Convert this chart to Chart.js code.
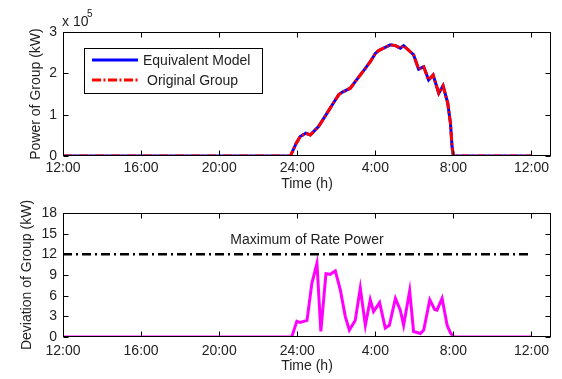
<!DOCTYPE html>
<html><head><meta charset="utf-8">
<script src="https://cdn.jsdelivr.net/npm/chart.js@4"></script>
<style>
html,body{margin:0;padding:0;background:#fff}
#wrap{position:relative;width:562px;height:379px;background:#fff}
canvas{position:absolute;left:0;top:0}
</style>
</head><body>
<div id="wrap"><canvas id="c1" width="562" height="379"></canvas><canvas id="c2" width="562" height="379"></canvas></div>
<script>
// ---- data ----
const xTickHours = [12, 16, 20, 24, 28, 32, 36];
const xTickLabels = ['12:00', '16:00', '20:00', '24:00', '4:00', '8:00', '12:00'];

const powerHours = [12, 23.65, 23.95, 24.15, 24.44, 24.67, 25.09, 25.52, 25.78, 26.12, 26.29, 26.72, 26.97, 27.49, 27.74, 28.0, 28.17, 28.43, 28.77, 29.03, 29.28, 29.45, 29.96, 30.22, 30.48, 30.73, 30.96, 31.25, 31.47, 31.71, 31.85, 31.93, 32.0, 36];
const equivalentModel = [0, 0, 31000, 47000, 55000, 51000, 71000, 103000, 123000, 148000, 154000, 164000, 180000, 212000, 228000, 248000, 255000, 261000, 269000, 267000, 261000, 267000, 245000, 210000, 216000, 184000, 196000, 152000, 170000, 128000, 79000, 23000, 0, 0];
const originalGroup = [0, 0, 31000, 47000, 55000, 51000, 71000, 103000, 123000, 148000, 154000, 164000, 180000, 212000, 228000, 248000, 255000, 261000, 269000, 267000, 261000, 267000, 245000, 210000, 216000, 184000, 196000, 152000, 170000, 128000, 79000, 23000, 0, 0];

const devHours = [12, 23.72, 23.98, 24.15, 24.5, 24.75, 25.01, 25.21, 25.47, 25.69, 25.95, 26.21, 26.46, 26.67, 26.97, 27.23, 27.49, 27.74, 27.91, 28.22, 28.51, 28.72, 29.03, 29.28, 29.45, 29.76, 29.96, 30.31, 30.48, 30.79, 31.04, 31.16, 31.42, 31.68, 31.85, 32.02, 36];
const deviation = [0, 0, 2.3, 2.1, 2.4, 7.8, 10.7, 0.8, 9.2, 9.1, 9.6, 6.8, 3.0, 1.0, 2.4, 7.1, 1.7, 5.4, 3.7, 5.0, 1.3, 1.7, 5.6, 3.9, 1.7, 6.7, 0.8, 0.5, 1.0, 5.4, 4.0, 3.9, 5.6, 1.7, 0.6, 0, 0];

const ratedHours = [12, 36];
const ratedMaximum = [12, 12];

const powerScale = 1e5;
const powerTickValues = [0, 1, 2, 3];
const devTickValues = [0, 3, 6, 9, 12, 15, 18];

// ---- helpers ----
const FONT = '"Liberation Sans", Arial, Helvetica, sans-serif';
Chart.defaults.font.family = FONT;
Chart.defaults.font.size = 14;
Chart.defaults.color = '#222';

const pts = (xs, ys) => xs.map((x, i) => ({x, y: ys[i]}));
const xLabel = v => { const i = xTickHours.indexOf(v); return i >= 0 ? xTickLabels[i] : ''; };

const framePlugin = {
  id: 'frame',
  afterDatasetsDraw(chart) {
    const {ctx, chartArea: a, scales: {x, y}} = chart;
    ctx.save();
    ctx.strokeStyle = '#000';
    ctx.lineWidth = 1;
    const L = Math.round(a.left) + 0.5, R = Math.round(a.right) - 0.5;
    const T = Math.round(a.top) + 0.5, B = Math.round(a.bottom) - 0.5;
    ctx.beginPath();
    x.ticks.forEach(t => {
      const p = Math.round(x.getPixelForValue(t.value)) + 0.5;
      ctx.moveTo(p, B); ctx.lineTo(p, B - 5);
      ctx.moveTo(p, T); ctx.lineTo(p, T + 5);
    });
    y.ticks.forEach(t => {
      const p = Math.round(y.getPixelForValue(t.value)) + 0.5;
      ctx.moveTo(L, p); ctx.lineTo(L + 5, p);
      ctx.moveTo(R, p); ctx.lineTo(R - 5, p);
    });
    ctx.stroke();
    ctx.strokeRect(L, T, R - L, B - T);
    ctx.restore();
  }
};

const topExtras = {
  id: 'topExtras',
  afterDraw(chart) {
    const ctx = chart.ctx;
    ctx.save();
    // exponent label
    ctx.fillStyle = '#222';
    ctx.textBaseline = 'alphabetic';
    ctx.textAlign = 'left';
    ctx.font = '14px ' + FONT;
    ctx.fillText('x 10', 62, 26);
    ctx.font = '10px ' + FONT;
    ctx.fillText('5', 87, 17);
    // legend
    ctx.fillStyle = '#fff';
    ctx.fillRect(84.5, 48.5, 178, 45);
    ctx.strokeStyle = '#000';
    ctx.lineWidth = 1;
    ctx.strokeRect(84.5, 48.5, 178, 45);
    const entries = [{i: 1, y: 60, tx: 143}, {i: 0, y: 80, tx: 147}];
    entries.forEach(e => {
      const ds = chart.data.datasets[e.i];
      ctx.beginPath();
      ctx.setLineDash(ds.borderDash || []);
      ctx.strokeStyle = ds.borderColor;
      ctx.lineWidth = ds.borderWidth;
      ctx.moveTo(92, e.y); ctx.lineTo(138, e.y);
      ctx.stroke();
      ctx.setLineDash([]);
      ctx.fillStyle = '#222';
      ctx.font = '14px ' + FONT;
      ctx.textBaseline = 'middle';
      ctx.fillText(ds.label, e.tx, e.y + 1);
    });
    ctx.restore();
  }
};

const bottomExtras = {
  id: 'bottomExtras',
  afterDraw(chart) {
    const {ctx, chartArea: a, scales: {y}} = chart;
    ctx.save();
    ctx.fillStyle = '#222';
    ctx.font = '14px ' + FONT;
    ctx.textAlign = 'center';
    ctx.textBaseline = 'middle';
    ctx.fillText('Maximum of Rate Power', (a.left + a.right) / 2, y.getPixelForValue(14.1));
    ctx.restore();
  }
};

function xScaleOpts(tickPad, titlePadBottom, height) {
  return {
    type: 'linear', min: 12, max: 37,
    grid: {display: false, drawTicks: false},
    border: {display: false},
    ticks: {stepSize: 4, includeBounds: false, autoSkip: false, maxRotation: 0, padding: tickPad,
            callback: v => xLabel(v)},
    title: {display: true, text: 'Time (h)', padding: {top: 0, bottom: titlePadBottom}},
    afterFit: s => { s.height = height; }
  };
}

// ---- top chart ----
new Chart(document.getElementById('c1'), {
  type: 'line',
  data: {
    datasets: [
      {label: 'Original Group', data: pts(powerHours, originalGroup), borderColor: '#ff0000',
       borderWidth: 3, borderDash: [9, 2.5, 2, 2.5], pointRadius: 0, tension: 0, order: 1},
      {label: 'Equivalent Model', data: pts(powerHours, equivalentModel), borderColor: '#0000ff',
       borderWidth: 3, pointRadius: 0, tension: 0, order: 2}
    ]
  },
  options: {
    responsive: false, animation: false, devicePixelRatio: 1,
    layout: {padding: {top: 32, right: 11, bottom: 183, left: 0}},
    plugins: {legend: {display: false}, tooltip: {enabled: false}},
    scales: {
      x: xScaleOpts(4, 3.6, 40),
      y: {
        type: 'linear', min: 0, max: 3 * powerScale,
        grid: {display: false, drawTicks: false}, border: {display: false},
        ticks: {stepSize: powerScale, padding: 6, callback: v => {
          const k = Math.round(v / powerScale); return powerTickValues.includes(k) ? String(k) : ''; }},
        title: {display: true, text: 'Power of Group (kW)', padding: {top: 27.6, bottom: 0}},
        afterFit: s => { s.width = 63; }
      }
    }
  },
  plugins: [framePlugin, topExtras]
});

// ---- bottom chart ----
new Chart(document.getElementById('c2'), {
  type: 'line',
  data: {
    datasets: [
      {label: 'Deviation', data: pts(devHours, deviation), borderColor: '#ff00ff',
       borderWidth: 3, pointRadius: 0, tension: 0, order: 2},
      {label: 'Maximum of Rate Power', data: pts(ratedHours, ratedMaximum), borderColor: '#000',
       borderWidth: 2.5, borderDash: [9, 4, 2, 4], pointRadius: 0, tension: 0, order: 1}
    ]
  },
  options: {
    responsive: false, animation: false, devicePixelRatio: 1,
    layout: {padding: {top: 213, right: 11, bottom: 2, left: 0}},
    plugins: {legend: {display: false}, tooltip: {enabled: false}},
    scales: {
      x: xScaleOpts(5.6, 2.6, 40),
      y: {
        type: 'linear', min: 0, max: 18,
        grid: {display: false, drawTicks: false}, border: {display: false},
        ticks: {stepSize: 3, padding: 6, callback: v => devTickValues.includes(v) ? String(v) : ''},
        title: {display: true, text: 'Deviation of Group (kW)', padding: {top: 18.6, bottom: 0}},
        afterFit: s => { s.width = 63; }
      }
    }
  },
  plugins: [framePlugin, bottomExtras]
});
</script>
</body></html>
